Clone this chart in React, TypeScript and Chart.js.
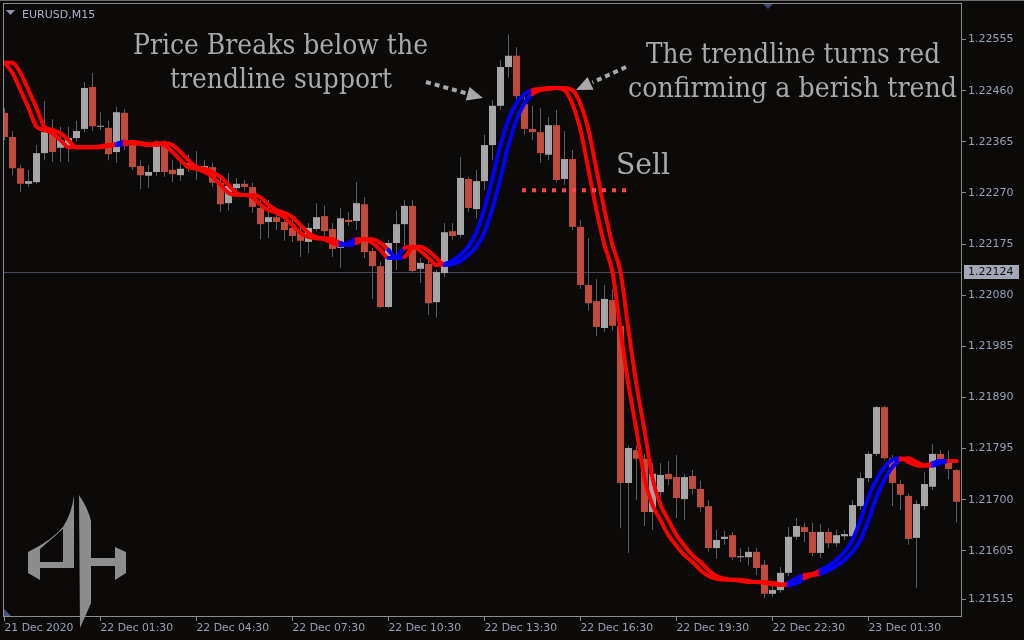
import React, { useEffect, useRef } from "react";
import { Chart, registerables } from "chart.js";

Chart.register(...registerables);

// ---------- data (EURUSD M15, bar 0 = 21 Dec 22:30) ----------
const opens = [
  1.22419, 1.22374, 1.22316, 1.22287, 1.2229, 1.22344, 1.22383, 1.22354, 1.22355, 1.22372,
  1.22389, 1.22467, 1.22393, 1.22391, 1.22346, 1.22419, 1.22359, 1.2232, 1.22302, 1.22309,
  1.22357, 1.22313, 1.22303, 1.22326, 1.22313, 1.22316, 1.22318, 1.22289, 1.22251, 1.22279,
  1.22287, 1.22281, 1.22242, 1.22216, 1.22225, 1.22216, 1.22205, 1.22196, 1.22179, 1.22203,
  1.22227, 1.22203, 1.22168, 1.2222, 1.22218, 1.22249, 1.22162, 1.22134, 1.22058, 1.22177,
  1.22212, 1.22246, 1.22129, 1.22138, 1.22067, 1.22121, 1.22199, 1.22192, 1.22296, 1.2224,
  1.22292, 1.22359, 1.22432, 1.22504, 1.22525, 1.22435, 1.22389, 1.22383, 1.22341, 1.22396,
  1.22296, 1.22333, 1.22207, 1.22099, 1.22069, 1.22019, 1.22071, 1.22023, 1.21731, 1.21792,
  1.21776, 1.21677, 1.21714, 1.21748, 1.21742, 1.21701, 1.21744, 1.2172, 1.21688, 1.2161,
  1.21627, 1.21634, 1.21593, 1.21593, 1.21603, 1.21579, 1.21525, 1.21532, 1.21564, 1.21631,
  1.21649, 1.2164, 1.21601, 1.2164, 1.21619, 1.21632, 1.21632, 1.21688, 1.2174, 1.21785,
  1.21872, 1.21777, 1.21729, 1.21707, 1.21629, 1.21688, 1.21724, 1.21785, 1.21774, 1.21755,
];
const highs = [
  1.22428, 1.22385, 1.22322, 1.22313, 1.22359, 1.22441, 1.22407, 1.22393, 1.22393, 1.22404,
  1.22476, 1.22493, 1.2242, 1.22404, 1.2243, 1.22426, 1.22368, 1.22331, 1.22322, 1.22368,
  1.22368, 1.22331, 1.22329, 1.22341, 1.22348, 1.22331, 1.22326, 1.22302, 1.22307, 1.22298,
  1.22294, 1.22289, 1.22257, 1.22257, 1.22238, 1.22229, 1.2222, 1.22212, 1.22214, 1.22251,
  1.22246, 1.22214, 1.22242, 1.22235, 1.2229, 1.22262, 1.22168, 1.22142, 1.22183, 1.22238,
  1.22257, 1.22257, 1.22149, 1.22145, 1.22127, 1.22214, 1.22214, 1.22337, 1.223, 1.22313,
  1.22378, 1.22443, 1.22517, 1.22565, 1.22541, 1.22448, 1.22432, 1.22428, 1.22411, 1.22424,
  1.22385, 1.2235, 1.2222, 1.22186, 1.2211, 1.22099, 1.2209, 1.2203, 1.218, 1.218,
  1.21785, 1.21768, 1.21768, 1.21772, 1.21783, 1.21748, 1.21755, 1.21735, 1.21699, 1.21644,
  1.21642, 1.2164, 1.2161, 1.21612, 1.2161, 1.21588, 1.21541, 1.21575, 1.21649, 1.21666,
  1.21657, 1.21657, 1.21655, 1.21647, 1.21644, 1.21644, 1.21699, 1.21751, 1.2179, 1.21874,
  1.21874, 1.21783, 1.21737, 1.21711, 1.21699, 1.21751, 1.21803, 1.21792, 1.21792, 1.21757,
];
const lows = [
  1.22368, 1.22303, 1.22272, 1.22281, 1.22287, 1.22331, 1.22328, 1.22328, 1.22328, 1.22365,
  1.22383, 1.22385, 1.22387, 1.22331, 1.22326, 1.2235, 1.22313, 1.22277, 1.22279, 1.22302,
  1.223, 1.2229, 1.22292, 1.22309, 1.22294, 1.22309, 1.22281, 1.22235, 1.22238, 1.22275,
  1.22275, 1.22233, 1.22184, 1.22186, 1.22201, 1.22181, 1.22179, 1.22151, 1.22158, 1.22199,
  1.22181, 1.22151, 1.22131, 1.22209, 1.22201, 1.22149, 1.22073, 1.22056, 1.22056, 1.22127,
  1.22171, 1.22123, 1.22103, 1.22043, 1.22038, 1.22114, 1.22183, 1.22186, 1.22235, 1.22223,
  1.22275, 1.22331, 1.22424, 1.22484, 1.22443, 1.22378, 1.22368, 1.22326, 1.22331, 1.22289,
  1.22285, 1.22201, 1.22092, 1.22051, 1.22004, 1.22012, 1.22015, 1.21647, 1.21601, 1.21699,
  1.21651, 1.21644, 1.21705, 1.21727, 1.21666, 1.21662, 1.21709, 1.21677, 1.21603, 1.2159,
  1.21616, 1.21588, 1.21584, 1.21577, 1.2156, 1.21517, 1.21519, 1.21527, 1.21558, 1.21625,
  1.21621, 1.21595, 1.21592, 1.2161, 1.21612, 1.21625, 1.21625, 1.21681, 1.21733, 1.21781,
  1.21774, 1.21688, 1.21681, 1.21616, 1.21536, 1.21681, 1.21718, 1.2177, 1.21738, 1.21658,
];
const closes = [
  1.22374, 1.22316, 1.22287, 1.22292, 1.22344, 1.22383, 1.22346, 1.22368, 1.22372, 1.22385,
  1.22465, 1.22394, 1.22394, 1.22342, 1.2242, 1.22357, 1.22318, 1.22303, 1.22309, 1.22357,
  1.22309, 1.22305, 1.22315, 1.22316, 1.22316, 1.2232, 1.22289, 1.22249, 1.22283, 1.22287,
  1.22281, 1.22244, 1.22212, 1.22225, 1.22216, 1.22201, 1.2219, 1.22181, 1.22205, 1.22225,
  1.22199, 1.22166, 1.22223, 1.22216, 1.22251, 1.2216, 1.22134, 1.22058, 1.22177, 1.22212,
  1.22246, 1.22125, 1.2214, 1.22065, 1.22123, 1.22197, 1.2219, 1.22298, 1.22242, 1.22292,
  1.22359, 1.22432, 1.22504, 1.22525, 1.2245, 1.22389, 1.22383, 1.22344, 1.22396, 1.22294,
  1.22333, 1.22207, 1.22099, 1.22065, 1.22021, 1.22073, 1.22023, 1.21731, 1.21796, 1.21776,
  1.21677, 1.21748, 1.21746, 1.21738, 1.21703, 1.21742, 1.2172, 1.21686, 1.2161, 1.21625,
  1.21631, 1.21593, 1.21595, 1.21603, 1.21573, 1.21525, 1.21532, 1.21564, 1.21631, 1.21651,
  1.2164, 1.21601, 1.2164, 1.21619, 1.21634, 1.21636, 1.2169, 1.2174, 1.21785, 1.21872,
  1.21777, 1.21731, 1.21709, 1.21627, 1.21692, 1.21729, 1.21785, 1.21774, 1.21757, 1.21696,
];
const trendFast = [
  1.22512, 1.22493, 1.22461, 1.22428, 1.22393, 1.22387, 1.22381, 1.22368, 1.22355, 1.22355,
  1.22355, 1.22355, 1.22357, 1.22359, 1.22361, 1.22365, 1.22363, 1.22361, 1.22359, 1.22363,
  1.22359, 1.22346, 1.22331, 1.22318, 1.22315, 1.22309, 1.223, 1.22285, 1.2227, 1.22266,
  1.22266, 1.22262, 1.22248, 1.22238, 1.22233, 1.22225, 1.2221, 1.22196, 1.22188, 1.22186,
  1.22184, 1.22177, 1.22173, 1.22177, 1.22184, 1.22184, 1.22177, 1.22164, 1.22149, 1.22151,
  1.22168, 1.2217, 1.22162, 1.22149, 1.22136, 1.22138, 1.22144, 1.22155, 1.22171, 1.22197,
  1.22242, 1.22298, 1.22359, 1.22406, 1.22437, 1.22454, 1.22461, 1.22463, 1.22465, 1.22465,
  1.22461, 1.22435, 1.22387, 1.22313, 1.22238, 1.22173, 1.22123, 1.22015, 1.21913, 1.21829,
  1.2174, 1.2169, 1.21662, 1.21634, 1.21614, 1.21597, 1.21584, 1.21569, 1.21558, 1.21553,
  1.21551, 1.21551, 1.21549, 1.21547, 1.21547, 1.21545, 1.21543, 1.21541, 1.21545, 1.21554,
  1.2156, 1.21562, 1.21569, 1.21577, 1.21588, 1.21603, 1.21625, 1.21662, 1.21705, 1.21737,
  1.21761, 1.21774, 1.21777, 1.2177, 1.21764, 1.21763, 1.21768, 1.21772, 1.21772, 1.21772,
];
const trendSlow = [
  1.22512, 1.22512, 1.22493, 1.22461, 1.22428, 1.22393, 1.22387, 1.22381, 1.22368, 1.22355,
  1.22355, 1.22355, 1.22355, 1.22357, 1.22359, 1.22361, 1.22365, 1.22363, 1.22361, 1.22359,
  1.22363, 1.22359, 1.22346, 1.22331, 1.22318, 1.22315, 1.22309, 1.223, 1.22285, 1.2227,
  1.22266, 1.22266, 1.22262, 1.22248, 1.22238, 1.22233, 1.22225, 1.2221, 1.22196, 1.22188,
  1.22186, 1.22184, 1.22177, 1.22173, 1.22177, 1.22184, 1.22184, 1.22177, 1.22164, 1.22149,
  1.22151, 1.22168, 1.2217, 1.22162, 1.22149, 1.22136, 1.22138, 1.22144, 1.22155, 1.22171,
  1.22197, 1.22242, 1.22298, 1.22359, 1.22406, 1.22437, 1.22454, 1.22461, 1.22463, 1.22465,
  1.22465, 1.22461, 1.22435, 1.22387, 1.22313, 1.22238, 1.22173, 1.22123, 1.22015, 1.21913,
  1.21829, 1.2174, 1.2169, 1.21662, 1.21634, 1.21614, 1.21597, 1.21584, 1.21569, 1.21558,
  1.21553, 1.21551, 1.21551, 1.21549, 1.21547, 1.21547, 1.21545, 1.21543, 1.21541, 1.21545,
  1.21554, 1.2156, 1.21562, 1.21569, 1.21577, 1.21588, 1.21603, 1.21625, 1.21662, 1.21705,
  1.21737, 1.21761, 1.21774, 1.21777, 1.2177, 1.21764, 1.21763, 1.21768, 1.21772, 1.21772,
];
// direction runs of the trend indicator: [direction, number of bars]
const trendRuns: [string, number][] = [
  ["down", 14], ["up", 1], ["down", 27], ["up", 2], ["down", 4], ["up", 2], ["down", 5],
  ["up", 11], ["down", 32], ["up", 2], ["down", 2], ["up", 10], ["down", 4], ["up", 2], ["down", 2],
];
const tickBars = [0, 12, 24, 36, 48, 60, 72, 84, 96, 108];
const tickLabels = [
  "21 Dec 2020", "22 Dec 01:30", "22 Dec 04:30", "22 Dec 07:30", "22 Dec 10:30",
  "22 Dec 13:30", "22 Dec 16:30", "22 Dec 19:30", "22 Dec 22:30", "23 Dec 01:30",
];
const priceTicks = [
  1.22555, 1.2246, 1.22365, 1.2227, 1.22175, 1.2208, 1.21985, 1.2189, 1.21795, 1.217, 1.21605, 1.21515,
];
const currentPrice = 1.22124;
const sellLevel = 1.22275;
const symbolLabel = "EURUSD,M15";
const notes = [
  { text: "Price Breaks below the", x: 133, y: 54, w: 295, size: 27 },
  { text: "trendline support", x: 170, y: 88, w: 222, size: 27 },
  { text: "The trendline turns red", x: 646, y: 63, w: 294, size: 27 },
  { text: "confirming a berish trend", x: 628, y: 97, w: 329, size: 27 },
  { text: "Sell", x: 616, y: 174, w: 54, size: 30 },
];

// ---------- styles ----------
const BG = "#0c0a09";
const BULL = "#a6a6a6";
const BEAR = "#c04a3b";
const WICK = "#535c6c";
const RED = "#ff0000";
const BLUE = "#0000ff";
const AXIS = "#8c8c8c";
const LABEL = "#97a0b8";
const NOTE = "#a9a9a9";

const trendDir: string[] = trendRuns.flatMap(([d, n]) => Array(n).fill(d));

function drawArrow(ctx: CanvasRenderingContext2D, x0: number, y0: number, x1: number, y1: number) {
  const dx = x1 - x0, dy = y1 - y0;
  const len = Math.hypot(dx, dy);
  const ux = dx / len, uy = dy / len;
  const hl = 16, hw = 7;
  const bx = x1 - ux * hl, by = y1 - uy * hl;
  ctx.save();
  ctx.strokeStyle = NOTE;
  ctx.fillStyle = NOTE;
  ctx.lineWidth = 4;
  ctx.setLineDash([5, 4]);
  ctx.beginPath();
  ctx.moveTo(x0, y0);
  ctx.lineTo(bx - ux * 2, by - uy * 2);
  ctx.stroke();
  ctx.setLineDash([]);
  ctx.beginPath();
  ctx.moveTo(x1, y1);
  ctx.lineTo(bx - uy * hw, by + ux * hw);
  ctx.lineTo(bx + uy * hw, by - ux * hw);
  ctx.closePath();
  ctx.fill();
  ctx.restore();
}

function drawLogo(ctx: CanvasRenderingContext2D) {
  ctx.save();
  ctx.fillStyle = "#8d8d8d";
  ctx.beginPath();
  ctx.moveTo(74, 495);
  ctx.lineTo(74, 568);
  ctx.lineTo(40, 568);
  ctx.lineTo(40, 580);
  ctx.lineTo(28, 573);
  ctx.lineTo(28, 552);
  ctx.quadraticCurveTo(52, 540, 63, 527);
  ctx.quadraticCurveTo(72, 513, 74, 495);
  ctx.closePath();
  ctx.moveTo(40, 562);
  ctx.lineTo(63, 562);
  ctx.lineTo(63, 529);
  ctx.lineTo(40, 549);
  ctx.closePath();
  ctx.fill("evenodd");
  ctx.beginPath();
  ctx.moveTo(79, 495);
  ctx.quadraticCurveTo(88, 508, 91, 521);
  ctx.lineTo(91, 603);
  ctx.quadraticCurveTo(86, 615, 80, 628);
  ctx.closePath();
  ctx.fill();
  ctx.fillRect(91, 558, 24, 8);
  ctx.beginPath();
  ctx.moveTo(115, 547);
  ctx.lineTo(126, 552);
  ctx.lineTo(126, 573);
  ctx.lineTo(115, 580);
  ctx.closePath();
  ctx.fill();
  ctx.restore();
}

const mtPlugin = {
  id: "mt4decor",
  beforeDraw(chart: any) {
    const { ctx, width, height } = chart;
    ctx.save();
    ctx.fillStyle = BG;
    ctx.fillRect(0, 0, width, height);
    ctx.restore();
  },
  beforeDatasetsDraw(chart: any) {
    const { ctx, chartArea } = chart;
    const y = Math.round(chart.scales.y.getPixelForValue(currentPrice)) + 0.5;
    ctx.save();
    ctx.strokeStyle = "#454a5e";
    ctx.lineWidth = 1;
    ctx.beginPath();
    ctx.moveTo(chartArea.left, y);
    ctx.lineTo(chartArea.right, y);
    ctx.stroke();
    ctx.restore();
  },
  afterDatasetsDraw(chart: any) {
    const { ctx } = chart;
    const y = chart.scales.y.getPixelForValue(sellLevel);
    ctx.save();
    ctx.strokeStyle = "#ff4444";
    ctx.lineWidth = 4;
    ctx.setLineDash([4, 6]);
    ctx.beginPath();
    ctx.moveTo(522, y);
    ctx.lineTo(628, y);
    ctx.stroke();
    ctx.restore();
    drawArrow(ctx, 426, 82, 483, 98);
    drawArrow(ctx, 626, 67, 576, 90);
  },
  afterDraw(chart: any) {
    const { ctx, chartArea, width } = chart;
    ctx.save();
    // window + plot frame
    ctx.strokeStyle = "#6c6c6c";
    ctx.lineWidth = 1;
    ctx.beginPath();
    ctx.moveTo(0, 0.5);
    ctx.lineTo(width, 0.5);
    ctx.stroke();
    ctx.strokeStyle = AXIS;
    ctx.strokeRect(
      chartArea.left + 0.5,
      chartArea.top + 0.5,
      chartArea.right - chartArea.left - 1,
      chartArea.bottom - chartArea.top - 1
    );
    // small markers
    ctx.fillStyle = "#3d4568";
    ctx.beginPath();
    ctx.moveTo(763, 4);
    ctx.lineTo(773, 4);
    ctx.lineTo(768, 9);
    ctx.closePath();
    ctx.fill();
    ctx.fillStyle = "#4a5282";
    ctx.beginPath();
    ctx.moveTo(4, 609);
    ctx.lineTo(4, 616);
    ctx.lineTo(11, 616);
    ctx.closePath();
    ctx.fill();
    // symbol label
    ctx.fillStyle = "#8d97b4";
    ctx.beginPath();
    ctx.moveTo(6, 10);
    ctx.lineTo(15, 10);
    ctx.lineTo(10.5, 15);
    ctx.closePath();
    ctx.fill();
    ctx.fillStyle = "#a9b1c8";
    ctx.font = '11px "DejaVu Sans"';
    ctx.textBaseline = "alphabetic";
    ctx.textAlign = "left";
    ctx.fillText(symbolLabel, 22, 18);
    // annotation texts
    ctx.fillStyle = NOTE;
    for (const n of notes) {
      ctx.font = `${n.size}px "DejaVu Serif"`;
      const m = ctx.measureText(n.text).width;
      ctx.save();
      ctx.translate(n.x, n.y);
      ctx.scale(n.w / m, 1);
      ctx.fillText(n.text, 0, 0);
      ctx.restore();
    }
    // current price box
    const py = Math.round(chart.scales.y.getPixelForValue(currentPrice));
    ctx.fillStyle = "#a4a7b6";
    ctx.fillRect(964, py - 7, 55, 14);
    ctx.fillStyle = "#101010";
    ctx.font = '11px "DejaVu Sans"';
    ctx.textBaseline = "middle";
    ctx.fillText(currentPrice.toFixed(5), 968, py + 0.5);
    ctx.restore();
    drawLogo(ctx);
  },
};

export default function App() {
  const ref = useRef<HTMLCanvasElement>(null);

  useEffect(() => {
    const idx = opens.map((_, i) => i);
    const bodyData = idx.map((i) => ({ x: i, y: [opens[i], closes[i]] }));
    const wickData = idx.map((i) => ({ x: i, y: [lows[i], highs[i]] }));
    const bodyColors = idx.map((i) => (closes[i] >= opens[i] ? BULL : BEAR));
    const lineDs = (vals: number[], label: string) => ({
      type: "line",
      label,
      data: vals.map((v, i) => ({ x: i, y: v })),
      borderColor: RED,
      borderWidth: 4,
      pointRadius: 0,
      cubicInterpolationMode: "monotone",
      borderCapStyle: "round",
      borderJoinStyle: "round",
      segment: {
        borderColor: (c: any) => (trendDir[c.p0DataIndex] === "up" ? BLUE : RED),
      },
      clip: 0,
      order: 0,
    });

    const chart = new Chart(ref.current as HTMLCanvasElement, {
      type: "bar",
      data: {
        datasets: [
          lineDs(trendSlow, "trend slow"),
          lineDs(trendFast, "trend fast"),
          {
            type: "bar",
            label: "body",
            data: bodyData,
            backgroundColor: bodyColors,
            barThickness: 7,
            minBarLength: 1,
            grouped: false,
            borderWidth: 0,
            inflateAmount: 0,
            clip: 0,
            order: 1,
          },
          {
            type: "bar",
            label: "wick",
            data: wickData,
            backgroundColor: WICK,
            barThickness: 1,
            grouped: false,
            borderWidth: 0,
            inflateAmount: 0,
            clip: 0,
            order: 2,
          },
        ] as any,
      },
      options: {
        responsive: false,
        animation: false,
        events: [],
        layout: { padding: { left: 3, top: 3, right: 0, bottom: 0 } },
        plugins: { legend: { display: false }, tooltip: { enabled: false } },
        scales: {
          x: {
            type: "linear",
            min: -0.1875,
            max: 119.6875,
            offset: false,
            grid: { display: true, drawOnChartArea: false, tickLength: 4, color: AXIS, offset: false },
            border: { display: false },
            ticks: {
              autoSkip: false,
              maxRotation: 0,
              minRotation: 0,
              align: "start",
              padding: 1,
              color: LABEL,
              font: { family: "DejaVu Sans", size: 10.8 },
              callback: (_v: any, i: number) => tickLabels[i] ?? "",
            },
            afterBuildTicks: (s: any) => {
              s.ticks = tickBars.map((v) => ({ value: v }));
            },
            afterFit: (s: any) => {
              s.height = 23;
              s.paddingLeft = 0;
              s.paddingRight = 0;
            },
          },
          y: {
            type: "linear",
            position: "right",
            min: 1.2148192,
            max: 1.2262302,
            grid: { display: true, drawOnChartArea: false, tickLength: 4, color: AXIS },
            border: { display: false },
            ticks: {
              padding: 2,
              crossAlign: "near",
              color: LABEL,
              font: { family: "DejaVu Sans", size: 11 },
              callback: (v: any) => Number(v).toFixed(5),
            },
            afterBuildTicks: (s: any) => {
              s.ticks = priceTicks.map((v) => ({ value: v }));
            },
            afterFit: (s: any) => {
              s.width = 62;
              s.paddingTop = 0;
              s.paddingBottom = 0;
            },
          },
        },
      } as any,
      plugins: [mtPlugin],
    });
    return () => chart.destroy();
  }, []);

  return (
    <div style={{ position: "fixed", left: 0, top: 0, width: 1024, height: 640, background: BG }}>
      <canvas ref={ref} width={1024} height={640} style={{ display: "block", width: 1024, height: 640 }} />
    </div>
  );
}
